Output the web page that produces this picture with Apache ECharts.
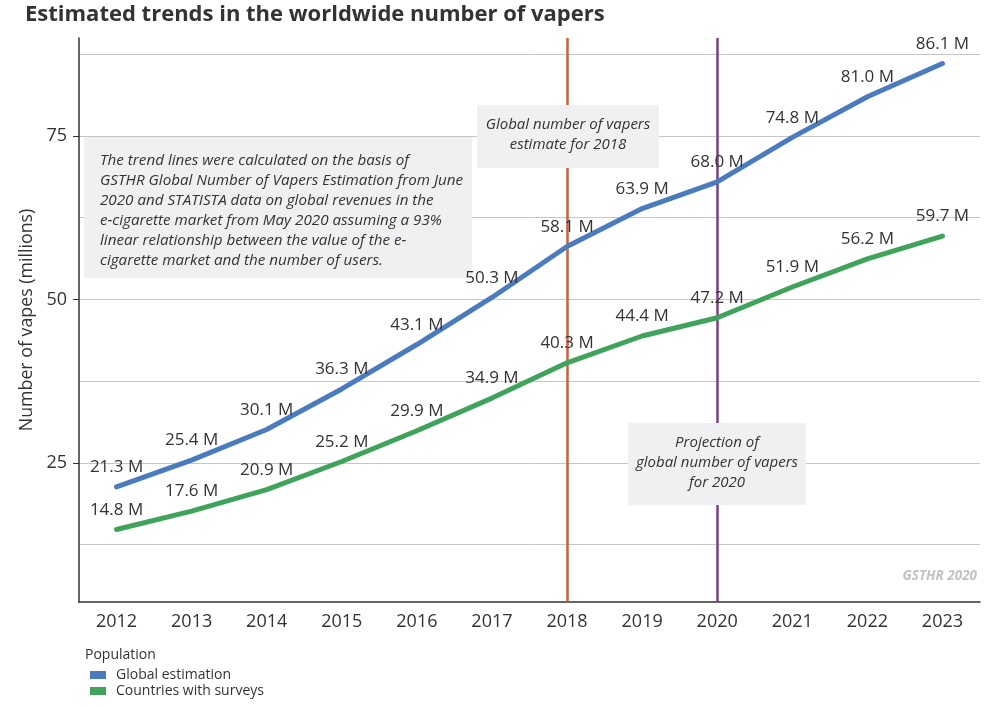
<!DOCTYPE html>
<html>
<head>
<meta charset="utf-8">
<script src="https://cdn.jsdelivr.net/npm/echarts@6/dist/echarts.min.js"></script>
<style>
html,body{margin:0;padding:0;background:#fff;}
#chart{width:1000px;height:707px;}
</style>
</head>
<body>
<div id="chart"></div>
<script>
var years = ['2012','2013','2014','2015','2016','2017','2018','2019','2020','2021','2022','2023'];
var globalEstimation = [21.3, 25.4, 30.1, 36.3, 43.1, 50.3, 58.1, 63.9, 68.0, 74.8, 81.0, 86.1];
var countriesWithSurveys = [14.8, 17.6, 20.9, 25.2, 29.9, 34.9, 40.3, 44.4, 47.2, 51.9, 56.2, 59.7];
var yTickLabels = [25, 50, 75];
var gridValues = [12.5, 25, 37.5, 50, 62.5, 75, 87.5];
var markerYears = ['2018', '2020'];

var FONT = '"Open Sans", sans-serif';
var chart = echarts.init(document.getElementById('chart'));

var labelCfg = {
  show: true, position: 'top', distance: 11,
  fontFamily: FONT, fontSize: 17, color: '#333',
  formatter: function (p) { return p.value.toFixed(1) + ' M'; }
};

chart.setOption({
  animation: false,
  title: {
    text: 'Estimated trends in the worldwide number of vapers',
    left: 20, top: -1,
    textStyle: {fontFamily: FONT, fontWeight: 'bold', fontSize: 22, color: '#333'}
  },
  grid: {left: 79, right: 20, top: 38, bottom: 105},
  legend: {
    orient: 'vertical', left: 85, bottom: 4,
    itemWidth: 16, itemHeight: 8, itemGap: 2, icon: 'rect',
    data: ['Global estimation', 'Countries with surveys'],
    textStyle: {fontFamily: FONT, fontSize: 14, color: '#333', padding: [0, 0, 0, 5]}
  },
  xAxis: {
    type: 'category', data: years, boundaryGap: true,
    axisLine: {lineStyle: {color: '#333', width: 1.5}},
    axisTick: {alignWithLabel: true, length: 6, lineStyle: {color: '#333'}},
    axisLabel: {fontFamily: FONT, fontSize: 18, color: '#333', margin: 11}
  },
  yAxis: {
    type: 'value', min: 3.7, max: 90,
    name: 'Number of vapes (millions)', nameLocation: 'middle', nameGap: 36,
    nameTextStyle: {fontFamily: FONT, fontSize: 17.8, color: '#333'},
    axisLine: {show: true, lineStyle: {color: '#333', width: 1.5}},
    axisTick: {show: true, length: 6, customValues: yTickLabels, lineStyle: {color: '#333'}},
    axisLabel: {customValues: yTickLabels, fontFamily: FONT, fontSize: 18, color: '#333', margin: 12},
    splitLine: {show: false}
  },
  series: [
    {
      name: 'grid', type: 'line', data: [], z: 0, silent: true,
      markLine: {
        silent: true, symbol: 'none', label: {show: false}, z: 0,
        lineStyle: {color: '#c6c6c6', width: 1, type: 'solid'},
        data: gridValues.map(function (v) { return {yAxis: v}; })
      }
    },
    {
      name: 'markers', type: 'line', data: [], z: 1, silent: true,
      markLine: {
        silent: true, symbol: 'none', label: {show: false}, z: 1,
        data: [
          {xAxis: markerYears[0], lineStyle: {color: '#c4623c', width: 2.5, type: 'solid'}},
          {xAxis: markerYears[1], lineStyle: {color: '#7b3f85', width: 2.5, type: 'solid'}}
        ]
      }
    },
    {
      name: 'Global estimation', type: 'line', data: globalEstimation,
      showSymbol: true, symbol: 'circle', symbolSize: 0.1, smooth: false,
      lineStyle: {color: '#4a7bbd', width: 5, cap: 'round', join: 'round'},
      itemStyle: {color: '#4a7bbd'},
      label: labelCfg,
      z: 3
    },
    {
      name: 'Countries with surveys', type: 'line', data: countriesWithSurveys,
      showSymbol: true, symbol: 'circle', symbolSize: 0.1, smooth: false,
      lineStyle: {color: '#40a35c', width: 5, cap: 'round', join: 'round'},
      itemStyle: {color: '#40a35c'},
      label: labelCfg,
      z: 3
    }
  ],
  graphic: [
    {type: 'text', left: 85, top: 648, z: 50,
     style: {text: 'Population', fontFamily: FONT, fontSize: 14, fill: '#333'}},
    {type: 'rect', shape: {x: 84, y: 137, width: 388, height: 141}, z: 2,
     style: {fill: '#eff0f1'}},
    {type: 'text', x: 100, y: 151, z: 2,
     style: {
       text: 'The trend lines were calculated on the basis of\nGSTHR Global Number of Vapers Estimation from June\n2020 and STATISTA data on global revenues in the\ne-cigarette market from May 2020 assuming a 93%\nlinear relationship between the value of the e-\ncigarette market and the number of users.',
       fontFamily: FONT, fontSize: 15.2, fontStyle: 'italic', fill: '#333', lineHeight: 20
     }},
    {type: 'rect', shape: {x: 477, y: 105, width: 182, height: 63}, z: 2,
     style: {fill: '#eff0f1'}},
    {type: 'text', x: 568, y: 115, z: 2,
     style: {
       text: 'Global number of vapers\nestimate for 2018',
       fontFamily: FONT, fontSize: 15, fontStyle: 'italic', fill: '#333', lineHeight: 20, align: 'center'
     }},
    {type: 'rect', shape: {x: 628, y: 423, width: 178, height: 82}, z: 2,
     style: {fill: '#eff0f1'}},
    {type: 'text', x: 717, y: 433, z: 2,
     style: {
       text: 'Projection of\nglobal number of vapers\nfor 2020',
       fontFamily: FONT, fontSize: 15, fontStyle: 'italic', fill: '#333', lineHeight: 20, align: 'center'
     }},
    {type: 'text', x: 977, y: 569, z: 2,
     style: {text: 'GSTHR 2020', fontFamily: FONT, fontSize: 13.5, fontWeight: 'bold', fontStyle: 'italic', fill: '#c2c2c2', align: 'right'}}
  ]
});
</script>
</body>
</html>
